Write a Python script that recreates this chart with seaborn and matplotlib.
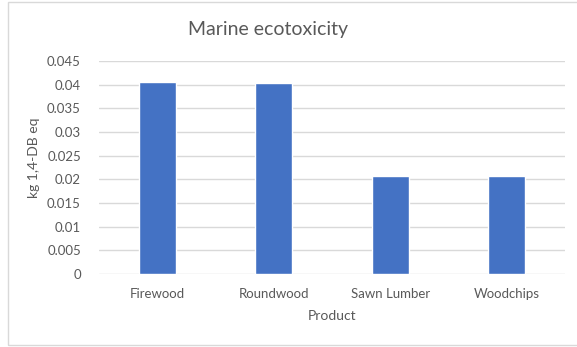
import matplotlib
matplotlib.use("Agg")
import matplotlib.pyplot as plt
import seaborn as sns
import pandas as pd
from matplotlib.patches import Rectangle

products = ["Firewood", "Roundwood", "Sawn Lumber", "Woodchips"]
impact = [0.0405, 0.04035, 0.0208, 0.0208]
yticks = [0, 0.005, 0.01, 0.015, 0.02, 0.025, 0.03, 0.035, 0.04, 0.045]
ytick_labels = ["0", "0.005", "0.01", "0.015", "0.02", "0.025", "0.03", "0.035", "0.04", "0.045"]

df = pd.DataFrame({"Product": products, "Impact": impact})

sns.set_theme(style="white")
plt.rcParams["font.family"] = ["Lato", "DejaVu Sans"]

TEXT = "#595959"
GRID = "#d9d9d9"
BAR = "#4472C4"

W, H = 577, 347
fig = plt.figure(figsize=(W / 100, H / 100), dpi=100)
fig.patch.set_facecolor("white")

# chart frame
fig.patches.append(Rectangle((8 / W, 2 / H), (W + 5 - 8) / W, (H - 4) / H,
                             transform=fig.transFigure, fill=False,
                             edgecolor=GRID, linewidth=1))

ax = fig.add_axes([99 / W, (H - 274) / H, (565 - 99) / W, (274 - 61) / H])
sns.barplot(data=df, x="Product", y="Impact", color=BAR, width=0.32,
            saturation=1, ax=ax, zorder=3)

ax.set_ylim(0, 0.045)
ax.set_yticks(yticks)
ax.set_yticklabels(ytick_labels)
ax.set_xlim(-0.5, len(products) - 0.5)
ax.yaxis.grid(True, color=GRID, linewidth=1)
ax.set_axisbelow(True)
for s in ax.spines.values():
    s.set_visible(False)
ax.tick_params(axis="both", length=0, labelsize=9.5, colors=TEXT)
ax.tick_params(axis="y", pad=13)
ax.tick_params(axis="x", pad=10)
ax.set_xlabel("")
ax.set_ylabel("")

fig.text(268 / W, 1 - 30 / H, "Marine ecotoxicity", ha="center", va="center",
         fontsize=14, color=TEXT)
fig.text(332 / W, 1 - 316 / H, "Product", ha="center", va="center",
         fontsize=10, color=TEXT)
fig.text(34 / W, 1 - 158 / H, "kg 1,4-DB eq", ha="center", va="center",
         rotation=90, fontsize=10, color=TEXT)

fig.savefig("out.png", dpi=100, facecolor="white")
